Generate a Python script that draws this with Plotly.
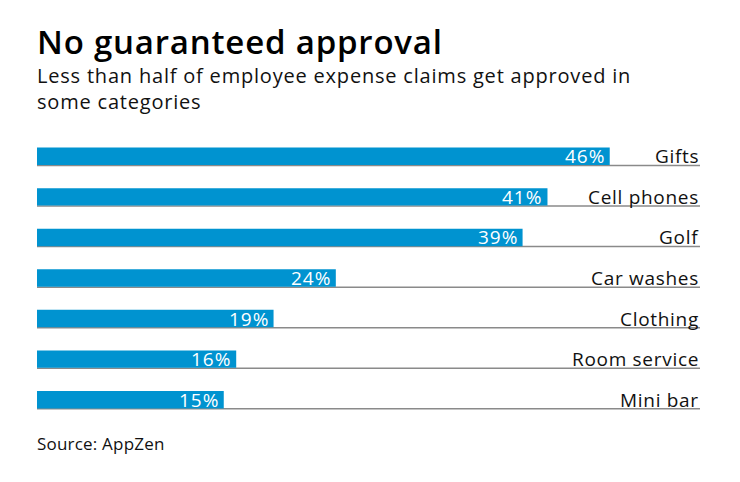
import plotly.graph_objects as go

categories = ["Gifts", "Cell phones", "Golf", "Car washes", "Clothing", "Room service", "Mini bar"]
values = [46, 41, 39, 24, 19, 16, 15]
value_labels = ["46%", "41%", "39%", "24%", "19%", "16%", "15%"]

title_text = "No guaranteed approval"
subtitle_lines = ["Less than half of employee expense claims get approved in", "some categories"]
source_text = "Source: AppZen"

BAR_COLOR = "#0093d0"
FONT = "Open Sans"


def spaced(txt, px):
    return '<span style="letter-spacing:%spx">%s</span>' % (px, txt)


fig = go.Figure()
fig.add_trace(go.Bar(
    x=values,
    y=list(range(len(categories))),
    orientation="h",
    width=0.43,
    marker=dict(color=BAR_COLOR, line=dict(width=0)),
    hoverinfo="skip",
))

shapes = []
annotations = []
for i, (cat, v, lab) in enumerate(zip(categories, values, value_labels)):
    shapes.append(dict(type="line", xref="paper", x0=0, x1=1, yref="y",
                       y0=i + 0.225, y1=i + 0.225,
                       line=dict(color="#8a8a8a", width=1.5), layer="below"))
    annotations.append(dict(x=v, y=i, xref="x", yref="y", text=spaced(lab, 1),
                            showarrow=False, xanchor="right", yanchor="middle",
                            xshift=-3, yshift=0,
                            font=dict(family=FONT, size=19, color="white")))
    annotations.append(dict(x=1, y=i, xref="paper", yref="y", text=spaced(cat, 0.7),
                            showarrow=False, xanchor="right", yanchor="middle",
                            xshift=1, yshift=0,
                            font=dict(family=FONT, size=19, color="#111111")))

annotations.append(dict(x=0, y=1, xref="paper", yref="paper", text=spaced(title_text, 0.8),
                        showarrow=False, xanchor="left", yanchor="middle",
                        yshift=95, xshift=-2,
                        font=dict(family=FONT, size=33, color="black", weight=600)))
annotations.append(dict(x=0, y=1, xref="paper", yref="paper",
                        text="<br>".join(spaced(s, 0.8) for s in subtitle_lines),
                        showarrow=False, xanchor="left", yanchor="middle", align="left",
                        yshift=48, xshift=-2,
                        font=dict(family=FONT, size=20, color="#111111")))
annotations.append(dict(x=0, y=0, xref="paper", yref="paper", text=spaced(source_text, 0.2),
                        showarrow=False, xanchor="left", yanchor="middle",
                        yshift=-23, xshift=-2,
                        font=dict(family=FONT, size=17, color="#111111")))

fig.update_layout(
    width=740, height=482,
    margin=dict(l=29, r=48, t=128, b=70),
    paper_bgcolor="white", plot_bgcolor="white",
    showlegend=False,
    xaxis=dict(range=[0, 53.25], visible=False, fixedrange=True),
    yaxis=dict(range=[6.5, -0.5], visible=False, fixedrange=True),
    shapes=shapes,
    annotations=annotations,
)

fig.write_html("out.html")
